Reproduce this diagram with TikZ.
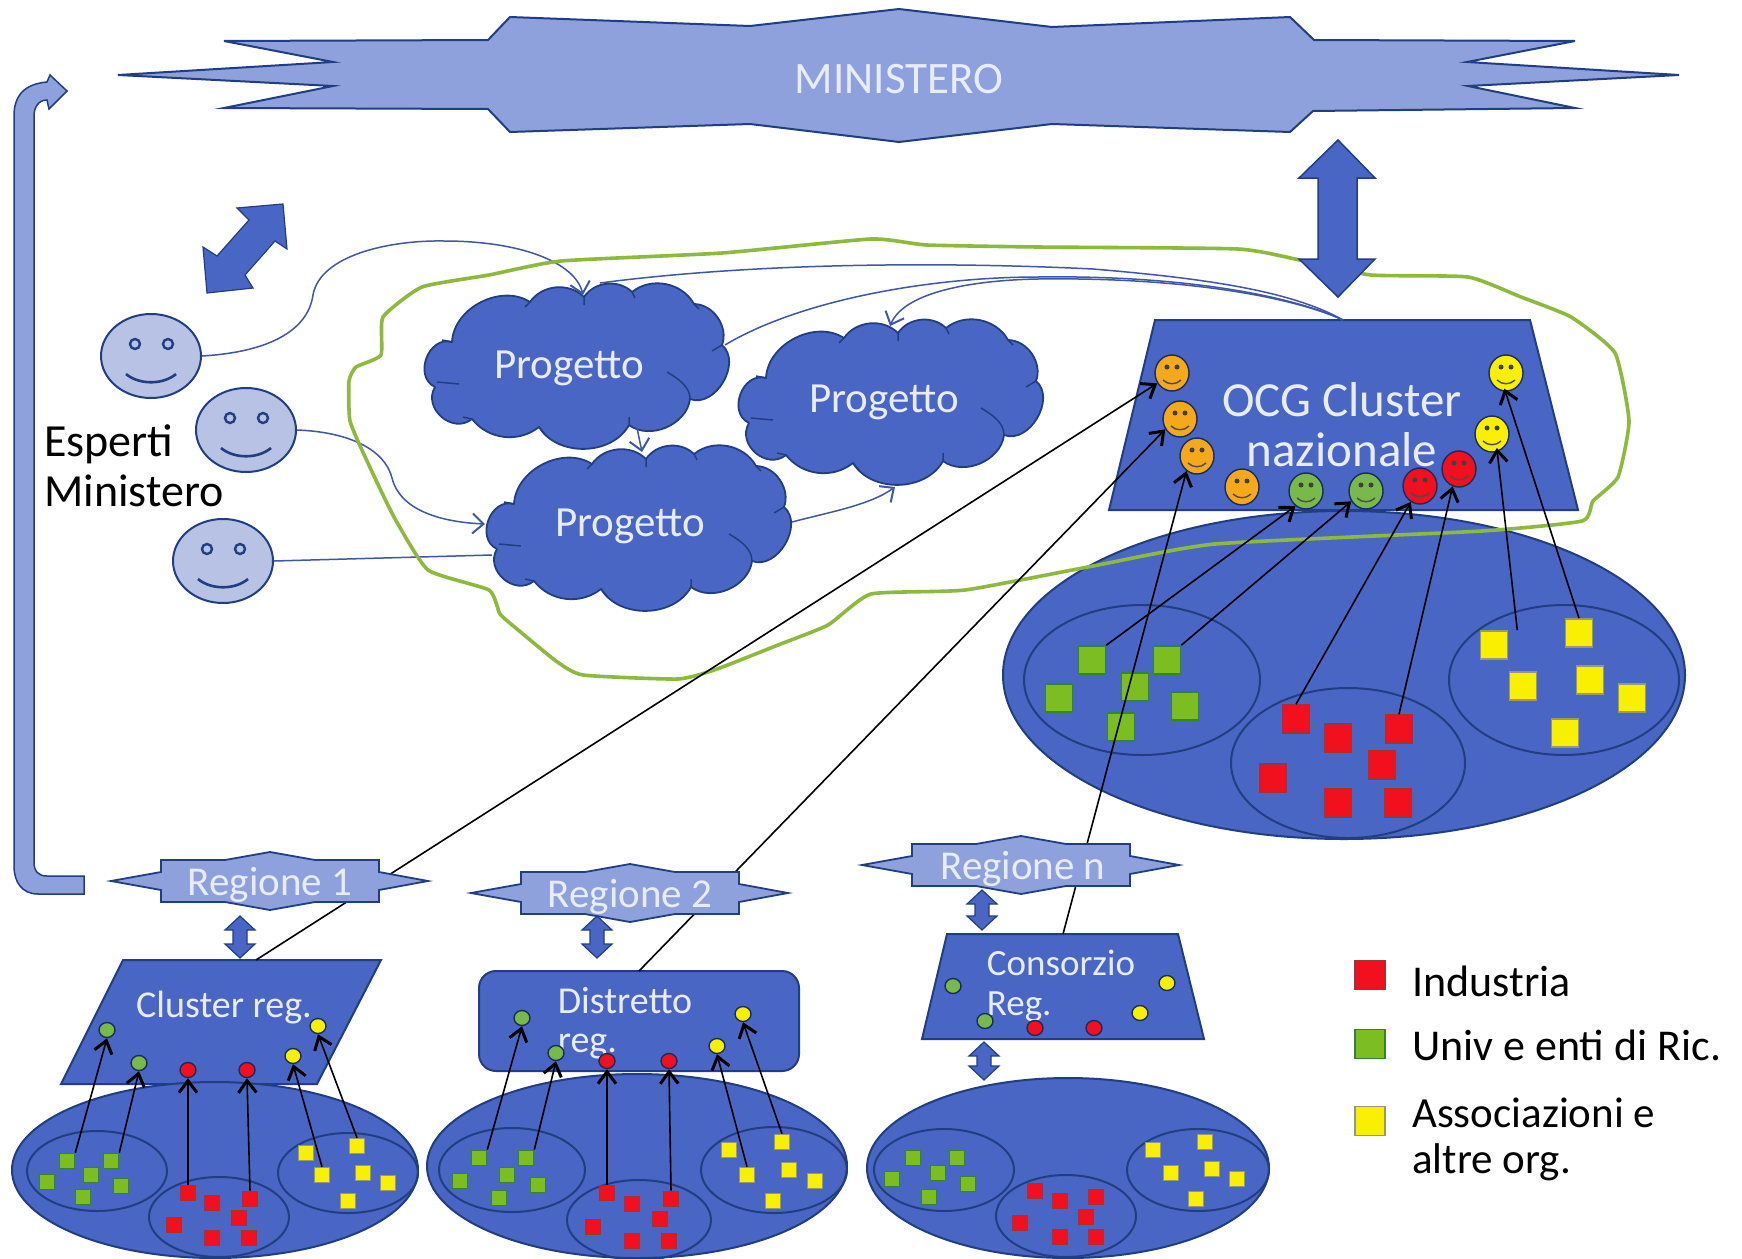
\documentclass[tikz,border=0pt]{standalone}
\usepackage{fontspec}
\setmainfont{Carlito}
\usetikzlibrary{shapes.geometric,arrows.meta}
\definecolor{dk}{HTML}{223E82}
\definecolor{bl}{HTML}{4A66C4}
\definecolor{lb}{HTML}{8FA1DD}
\definecolor{fc}{HTML}{B7C2E4}
\definecolor{tx}{HTML}{E8ECF9}
\definecolor{grn}{HTML}{8DB93C}
\definecolor{sG}{HTML}{7CBE22}
\definecolor{sR}{HTML}{F20F1E}
\definecolor{sY}{HTML}{F8F000}
\definecolor{sO}{HTML}{F5A81C}
\definecolor{cG}{HTML}{79B84A}
\newcommand{\fsz}[2]{\fontsize{#1}{#2}\selectfont}
\newcommand{\cloudat}[2]{%
 \begin{scope}[shift={(#1,#2)}]
 \fill[bl,draw=dk,line width=1.8pt,line join=round] (-125,-25) to[bend left=60] (-47,-65) to[bend left=50] (7,-70) to[bend left=50] (55,-75) to[bend left=50] (117,-63) to[bend left=55] (145,-22) to[bend left=80,looseness=1.1] (113,32) to[bend left=60] (52,58) to[bend left=60] (-38,60) to[bend left=45] (-105,52) to[bend left=80,looseness=1.3] (-142,20) to[bend left=85,looseness=1.3] cycle;
 \draw[dk,line width=1.5pt] (90,5) .. controls (102,12) and (113,20) .. (113,32) (-140,15) -- (-118,17) (135,-16) -- (145,-22) (-125,-25) -- (-135,-27) (52,50) -- (52,58) (-47,-65) -- (-52,-60) (7,-70) -- (7,-62) (55,-75) -- (58,-69) (117,-63) -- (122,-58) (-105,52) -- (-114,50) (-38,60) -- (-32,67);
 \end{scope}}
\newcommand{\regione}[5]{% name, x, y, text, textshift
 \begin{scope}[shift={(#2,#3)}]
 \fill[lb,draw=dk,line width=1.8pt] (-159,0) -- (-109,-9) -- (-109,-21) -- (-45,-21) -- (0,-29) -- (45,-21) -- (109,-21) -- (109,-9) -- (158,0) -- (109,9) -- (109,21) -- (45,21) -- (0,29) -- (-45,21) -- (-109,21) -- (-109,9) -- cycle;
 \node[txt,font=\fsz{41}{44}] (#1) at (#5,4) {#4};
 \end{scope}}
\newcommand{\dbl}[4]{% x, y top, y bottom, half head width
 \fill[bl,draw=dk,line width=1.2pt] (#1,#2) -- (#1+#4,#2+14) -- (#1+7,#2+14) -- (#1+7,#3-14) -- (#1+#4,#3-14) -- (#1,#3) -- (#1-#4,#3-14) -- (#1-7,#3-14) -- (#1-7,#2+14) -- (#1-#4,#2+14) -- cycle;}
\tikzset{
 txt/.style={text=tx,inner sep=0pt},
 blk/.style={text=black,inner sep=0pt,align=left},
 ell/.style={ellipse,draw=dk,line width=2pt,inner sep=0pt},
 bigE/.style={ell,fill=bl},
 inE/.style={ell},
 sqbase/.style={rectangle,inner sep=0pt,line width=1.6pt},
 sqG/.style={sqbase,fill=sG,draw=green!40!black!80},
 sqR/.style={sqbase,fill=sR,draw=red!55!black!80},
 sqY/.style={sqbase,fill=sY,draw=yellow!35!black!70},
 big/.style={minimum width=27pt,minimum height=28pt},
 small/.style={minimum width=15pt,minimum height=15pt},
 dot/.style={ellipse,inner sep=0pt,minimum width=16pt,minimum height=15pt,draw=dk!70!black,line width=1.4pt},
 face/.style={ellipse,inner sep=0pt,minimum width=100pt,minimum height=84pt,fill=fc,draw=dk,line width=2pt},
 smil/.style={ellipse,inner sep=0pt,minimum width=34pt,minimum height=36pt,draw=dk!70!black,line width=1.4pt},
 thin/.style={color=bl!85!black,line width=1.5pt,-{Straight Barb[length=11pt,width=20pt,line width=2pt]}},
 thinn/.style={color=bl!85!black,line width=1.5pt},
 bar/.style={black,line width=1.6pt,-{Straight Barb[length=12pt,width=18pt,line width=3pt]}},
}
\begin{document}
\begin{tikzpicture}[x=1pt,y=-1pt]
\useasboundingbox (0,0) rectangle (1742,1258);
\fill[white] (0,0) rectangle (1742,1258);
% U-turn arrow
\fill[lb,draw=dk,line width=1.5pt] (84,876) -- (84,894) -- (38,894) .. controls (22,894) and (14,882) .. (14,866) -- (14,116) .. controls (14,96) and (24,84) .. (47,82) -- (50,75) -- (67,91) -- (49,109) -- (47,100) .. controls (38,100) and (34,108) .. (34,116) -- (34,862) .. controls (34,871) and (38,876) .. (47,876) -- cycle;
% Ministero
\fill[lb,draw=dk,line width=2pt] (118,75) -- (333,62) -- (224,41) -- (488,40) -- (510,17) -- (750,26) -- (899,9) -- (1052,27) -- (1290,17) -- (1314,40) -- (1575,41) -- (1467,62) -- (1679,75) -- (1468,86) -- (1575,108) -- (1313,111) -- (1290,132) -- (1052,124) -- (899,142) -- (750,124) -- (510,132) -- (488,109) -- (224,108) -- (333,86) -- cycle;
\node[txt,font=\fsz{45}{50}] (min) at (899,79) {MINISTERO};
% diagonal double arrow
\fill[bl,draw=dk,line width=1.2pt] (283,204) -- (287,249) -- (275,241) -- (245,275) -- (253,288) -- (207,293) -- (203,247) -- (217,256) -- (249,220) -- (237,208) -- cycle;
% clouds
\cloudat{577}{367}
\cloudat{891}{403}
\cloudat{639}{529}
\node[txt,font=\fsz{43}{44}] (p1) at (569,368) {Progetto};
\node[txt,font=\fsz{43}{44}] (p2) at (884,402) {Progetto};
\node[txt,font=\fsz{43}{44}] (p3) at (630,526) {Progetto};
\coordinate (p1t) at (583,295);
\coordinate (p1u) at (600,283);
\coordinate (p1r) at (725,345);
\coordinate (p1b) at (637,428);
\coordinate (p3t) at (642,452);
\coordinate (p3l) at (485,524);
\coordinate (p3w) at (492,555);
\coordinate (p3r) at (792,522);
\coordinate (p2t) at (890,326);
\coordinate (p2b) at (895,487);
% faces
\foreach \n/\x/\y in {f1/151/356,f2/246/430,f3/223/561}{
 \node[face] (\n) at (\x,\y) {};
 \begin{scope}[shift={(\x,\y)}]
 \draw[dk,line width=2.4pt] (-16,-12) circle[radius=5] (17,-12) circle[radius=5];
 \draw[dk,line width=2.6pt] (-25,18) .. controls (-12,29) and (12,29) .. (25,18);
 \end{scope}}
\node[blk,font=\fsz{46}{50},anchor=west] (esp) at (44,466) {Esperti\\Ministero};
% big ellipse
\node[bigE,minimum width=682pt,minimum height=328pt] (bigE) at (1344,675) {};
\node[inE,minimum width=236pt,minimum height=150pt] (ie1) at (1142,680) {};
\node[inE,minimum width=234pt,minimum height=150pt] (ie2) at (1348,763) {};
\node[inE,minimum width=230pt,minimum height=150pt] (ie3) at (1564,680) {};
\foreach \n/\x/\y in {gb1/1092/660,gb2/1167/660,gb3/1135/687,gb4/1059/698,gb5/1185/706,gb6/1121/727}{\node[sqG,big] (\n) at (\x,\y) {};}
\foreach \n/\x/\y in {rb1/1296/719,rb2/1338/738,rb3/1399/729,rb4/1382/765,rb5/1273/778,rb6/1338/803,rb7/1398/803}{\node[sqR,big] (\n) at (\x,\y) {};}
\foreach \n/\x/\y in {yb1/1494/645,yb2/1579/633,yb3/1523/686,yb4/1590/680,yb5/1632/698,yb6/1565/733}{\node[sqY,big] (\n) at (\x,\y) {};}
% OCG
\fill[bl,draw=dk,line width=2pt] (1155,320) -- (1530,320) -- (1578,510) -- (1109,510) -- cycle;
\coordinate (ocg) at (1343,320);
\node[txt,font=\fsz{49}{50},align=center] (ocgt) at (1342,425) {OCG Cluster\\nazionale};
\foreach \n/\x/\y/\c in {O1/1172/373/sO,O2/1180/419/sO,O3/1197/456/sO,O4/1242/487/sO,G1/1306/491/cG,G2/1366/491/cG,R1/1420/486/sR,R2/1459/469/sR,Y1/1506/373/sY,Y2/1492/434/sY}{
 \node[smil,fill=\c] (\n) at (\x,\y) {};
 \begin{scope}[shift={(\x,\y)}]
 \fill[black!75] (-5,-6) circle[radius=2.5] (5,-6) circle[radius=2.5];
 \draw[black!70,line width=1.4pt] (-9,7) .. controls (-4,12) and (4,12) .. (9,7);
 \end{scope}}
% thin connectors
\draw[thin] (f1.east) .. controls (270,352) and (308,330) .. (313,295) .. controls (320,255) and (390,240) .. (444,241) .. controls (520,241) and (575,262) .. (p1t);
\draw[thin] (f2.east) .. controls (350,432) and (385,450) .. (392,478) .. controls (400,510) and (440,522) .. (p3l);
\draw[thinn] (f3.east) -- (p3w);
\draw[thin] (p1b) -- (p3t);
\draw[thin] (p3r) .. controls (830,512) and (870,505) .. (p2b);
\draw[thinn] (ocg) .. controls (1290,290) and (1200,278) .. (1093,269) .. controls (950,262) and (760,262) .. (p1u);
\draw[thinn] (ocg) .. controls (1290,295) and (1180,275) .. (1038,277) .. controls (930,277) and (800,300) .. (p1r);
\draw[thin] (ocg) .. controls (1290,296) and (1180,277) .. (1038,279) .. controls (980,280) and (905,290) .. (p2t);
% green outline
\draw[grn,line width=3.6pt,line join=round] plot[smooth cycle,tension=0.3] coordinates {(871,239) (722,253) (561,261) (489,275) (422,287) (383,317) (381,355) (356,367) (349,381) (350,421) (367,461) (394,517) (428,570) (489,590) (500,614) (517,629) (556,661) (583,675) (678,679) (717,669) (778,645) (828,625) (871,594) (965,590) (1093,566) (1215,544) (1482,531) (1582,521) (1593,501) (1618,477) (1629,421) (1615,353) (1571,317) (1521,297) (1468,277) (1371,275) (1304,261) (1238,249) (1038,247) (927,245)};
% vertical double arrow
\fill[bl,draw=dk,line width=1.5pt] (1338,140) -- (1375,178) -- (1357,178) -- (1357,259) -- (1375,259) -- (1338,297) -- (1299,259) -- (1318,259) -- (1318,178) -- (1299,178) -- cycle;
% Cluster reg.
\fill[bl,draw=dk,line width=2pt] (123,960) -- (381,960) -- (317,1084) -- (61,1084) -- cycle;
\coordinate (cTop) at (256,960);
\node[txt,font=\fsz{38}{38}] (ct) at (224,1008) {Cluster reg.};
% Distretto
\fill[bl,draw=dk,line width=2pt,rounded corners=17pt] (479,971) rectangle (799,1071);
\coordinate (dTop) at (639,971);
\node[txt,font=\fsz{38}{39},align=left] (dt) at (625,1023) {Distretto\\reg.};
% Consorzio
\fill[bl,draw=dk,line width=2pt] (947,934) -- (1178,934) -- (1204,1039) -- (922,1039) -- cycle;
\coordinate (nTop) at (1063,934);
\node[txt,font=\fsz{37}{40},align=left] (nt) at (1061,986) {Consorzio\\Reg.};
% bottom ellipses
\node[bigE,minimum width=406pt,minimum height=176pt] (E1) at (215,1170) {};
\node[bigE,minimum width=420pt,minimum height=184pt] (E2) at (637,1166) {};
\node[bigE,minimum width=402pt,minimum height=180pt] (E3) at (1068,1168) {};
\foreach \n/\x/\y/\w/\h in {a1/97/1171/140/80,a2/219/1217/140/80,a3/348/1173/140/80,b1/512/1170/146/84,b2/639/1220/144/80,b3/774/1170/146/86,c1/944/1170/140/82,c2/1066/1216/140/82,c3/1198/1170/142/82}{
 \node[inE,minimum width=\w pt,minimum height=\h pt] (\n) at (\x,\y) {};}
\foreach \n/\x/\y in {ga1/67/1161,ga2/111/1161,ga3/91/1175,ga4/47/1182,ga5/121/1186,ga6/83/1197,gb1s/479/1158,gb2s/526/1158,gb3s/507/1175,gb4s/460/1181,gb5s/538/1185,gb6s/499/1198,gc1/913/1158,gc2/957/1158,gc3/938/1173,gc4/892/1179,gc5/968/1184,gc6/929/1197}{\node[sqG,small] (\n) at (\x,\y) {};}
\foreach \n/\x/\y in {ra1/188/1193,ra2/212/1203,ra3/250/1199,ra4/239/1218,ra5/174/1225,ra6/212/1238,ra7/249/1238,rb1s/607/1193,rb2s/632/1204,rb3s/671/1199,rb4s/660/1219,rb5s/593/1227,rb6s/632/1241,rb7s/669/1241,rc1/1035/1191,rc2/1060/1201,rc3/1096/1197,rc4/1086/1217,rc5/1020/1223,rc6/1060/1237,rc7/1096/1237}{\node[sqR,small] (\n) at (\x,\y) {};}
\foreach \n/\x/\y in {ya1/306/1153,ya2/357/1146,ya3/322/1175,ya4/363/1173,ya5/388/1183,ya6/348/1201,yb1s/729/1150,yb2s/782/1142,yb3s/747/1175,yb4s/789/1170,yb5s/815/1181,yb6s/773/1201,yc1/1153/1150,yc2/1205/1142,yc3/1171/1173,yc4/1212/1169,yc5/1237/1179,yc6/1196/1199}{\node[sqY,small] (\n) at (\x,\y) {};}
% dots
\foreach \n/\x/\y/\c in {da1/107/1030/cG,da2/139/1063/cG,da3/188/1070/sR,da4/247/1070/sR,da5/293/1056/sY,da6/318/1026/sY,db1/522/1018/cG,db2/556/1053/cG,db3/607/1061/sR,db4/669/1061/sR,db5/717/1046/sY,db6/743/1014/sY,dc1/953/986/cG,dc2/985/1021/cG,dc3/1035/1028/sR,dc4/1094/1028/sR,dc5/1167/983/sY,dc6/1140/1013/sY}{\node[dot,fill=\c] (\n) at (\x,\y) {};}
% black arrows to OCG
\draw[bar] (cTop) -- (O1.215);
\draw[bar] (dTop) -- (O2.215);
\draw[bar] (nTop) -- (O3.235);
\draw[bar] (gb1.north east) -- (G1.235);
\draw[bar] (gb2.north east) -- (G2.215);
\draw[bar] (rb1.north) -- (R1.240);
\draw[bar] (rb3.north) -- (R2.250);
\draw[bar] ([xshift=9pt]yb1.north east) -- ([yshift=4pt]Y2.-75);
\draw[bar] (yb2.north) -- ([yshift=3pt]Y1.-95);
% black arrows bottom
\draw[bar] (ga1.north east) -- (da1.south);
\draw[bar] (ga2.north east) -- (da2.south);
\draw[bar] (ra1.north) -- (da3.south);
\draw[bar] (ra3.north) -- (da4.south);
\draw[bar] (ya3.north) -- (da5.south);
\draw[bar] (ya2.north) -- (da6.south);
\draw[bar] (gb1s.north east) -- (db1.south);
\draw[bar] (gb2s.north east) -- (db2.south);
\draw[bar] (rb1s.north) -- (db3.south);
\draw[bar] (rb3s.north) -- (db4.south);
\draw[bar] (yb3s.north) -- (db5.south);
\draw[bar] (yb2s.north) -- (db6.south);
% Regioni on top
\regione{r1}{270}{881}{Regione 1}{0}
\regione{r2}{630}{893}{Regione 2}{0}
\regione{rn}{1021}{865}{Regione n}{2}
\dbl{240}{916}{958}{15}
\dbl{597}{916}{958}{15}
\dbl{982}{890}{930}{15}
\dbl{984}{1042}{1080}{15}
% legend
\node[sqR,minimum width=30pt,minimum height=29pt] (l1) at (1370,975) {};
\node[sqG,minimum width=30pt,minimum height=29pt] (l2) at (1370,1044) {};
\node[sqY,minimum width=30pt,minimum height=29pt] (l3) at (1370,1121) {};
\node[blk,font=\fsz{44}{46},anchor=base west] (lt1) at (1412,996) {Industria};
\node[blk,font=\fsz{44}{46},anchor=base west] (lt2) at (1412,1060) {Univ e enti di Ric.};
\node[blk,font=\fsz{43}{46},anchor=west] (lt3) at (1412,1139) {Associazioni e\\altre org.};
\end{tikzpicture}
\end{document}
